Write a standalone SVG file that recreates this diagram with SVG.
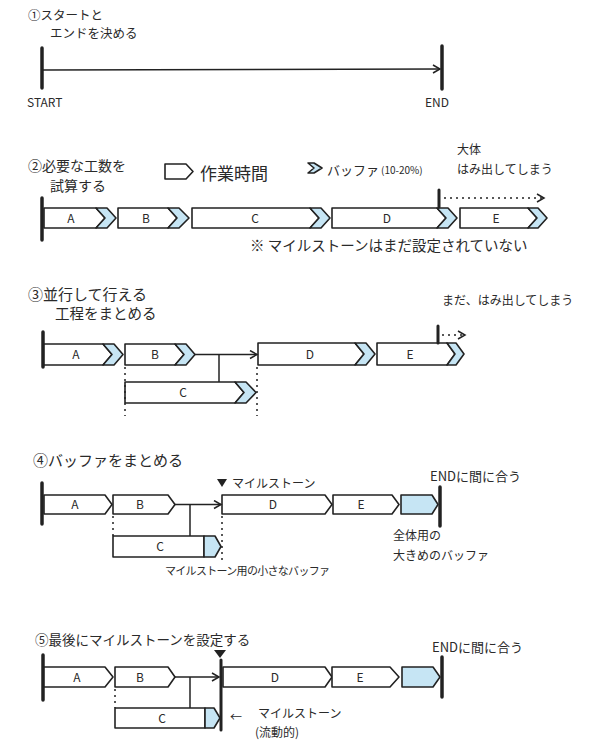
<svg xmlns="http://www.w3.org/2000/svg" width="590" height="751" viewBox="0 0 590 751">
<defs>
<style>
text{font-family:"Noto Sans CJK JP","Noto Sans",sans-serif;fill:#2a2a2a}
.t{font-size:13px}
.s{font-size:12px}
.lbl{font-size:12px;text-anchor:middle}
.box{fill:#fff;stroke:#222;stroke-width:1.6;stroke-linejoin:round}
.buf{fill:#c6e5f4;stroke:#222;stroke-width:1.6;stroke-linejoin:round}
.bar{stroke:#222;stroke-width:3.5;stroke-linecap:round}
.ln{fill:none;stroke:#222;stroke-width:1.5}
.dot{fill:none;stroke:#222;stroke-width:1.5;stroke-dasharray:2 4}
</style>
<marker id="ah" markerWidth="10" markerHeight="10" refX="8" refY="5" orient="auto" markerUnits="userSpaceOnUse">
<polyline points="1,1 8,5 1,9" fill="none" stroke="#222" stroke-width="1.5"/>
</marker>
</defs>
<rect width="590" height="751" fill="#fff"/>

<!-- Section 1 -->
<g id="s1-title">
<text x="28" y="20" style="font-size:12.5px">①スタートと</text>
<text x="50" y="38" style="font-size:12.5px">エンドを決める</text>
</g>
<g id="s1-start"><line class="bar" x1="42" y1="48" x2="42" y2="88"/><text class="s" x="27" y="107">START</text></g>
<g id="s1-end"><line class="bar" x1="442" y1="46" x2="442" y2="89"/><text class="s" x="425" y="107">END</text></g>

<!-- Section 2 -->
<g id="s2-title">
<text x="28" y="171" style="font-size:14px">②必要な工数を</text>
<text x="50" y="191" style="font-size:14px">試算する</text>
</g>
<g id="s2-legend">
<polygon class="box" points="165,164 186,164 193,171.5 186,179 165,179"/>
<text x="200" y="180" style="font-size:17px">作業時間</text>
<polygon class="buf" points="308,163 314,163 322,168 314,173 308,173 314,168"/>
<text x="327" y="175" style="font-size:13px">バッファ</text>
<text x="381" y="174" style="font-size:10px">(10-20%)</text>
<text class="s" x="457" y="154">大体</text>
<text class="s" x="457" y="174">はみ出してしまう</text>
</g>
<g id="s2-start"><line class="bar" x1="42" y1="198" x2="42" y2="240"/></g>
<g id="s2-A"><polygon class="box" points="44,208 96,208 105,218 96,228 44,228"/><polygon class="buf" points="96,208 107,208 116,218 107,228 96,228 105,218"/><text class="lbl" x="71" y="223">A</text></g>
<g id="s2-B"><polygon class="box" points="118,208 168,208 177,218 168,228 118,228"/><polygon class="buf" points="168,208 179,208 189,218 179,228 168,228 177,218"/><text class="lbl" x="146" y="223">B</text></g>
<g id="s2-C"><polygon class="box" points="192,208 310,208 319,218 310,228 192,228"/><polygon class="buf" points="310,208 321,208 330,218 321,228 310,228 319,218"/><text class="lbl" x="255" y="223">C</text></g>
<g id="s2-D"><polygon class="box" points="332,208 437,208 446,218 437,228 332,228"/><polygon class="buf" points="437,208 448,208 457,218 448,228 437,228 446,218"/><text class="lbl" x="387" y="223">D</text></g>
<g id="s2-E"><polygon class="box" points="460,208 528,208 537,218 528,228 460,228"/><polygon class="buf" points="528,208 538,208 547,218 538,228 528,228 537,218"/><text class="lbl" x="496" y="223">E</text></g>
<g id="s2-tick"><line class="bar" x1="439" y1="190" x2="439" y2="207" style="stroke-width:3"/></g>
<g id="s2-note"><text x="250" y="251" style="font-size:14.5px">※ マイルストーンはまだ設定されていない</text></g>

<!-- Section 3 -->
<g id="s3-title">
<text x="28" y="300" style="font-size:15px">③並行して行える</text>
<text x="55" y="319" style="font-size:14.5px">工程をまとめる</text>
</g>
<g id="s3-start"><line class="bar" x1="43" y1="332" x2="43" y2="367"/></g>
<g id="s3-A"><polygon class="box" points="44,344 103,344 112,354.5 103,365 44,365"/><polygon class="buf" points="103,344 114,344 123,354.5 114,365 103,365 112,354.5"/><text class="lbl" x="76" y="359">A</text></g>
<g id="s3-B"><polygon class="box" points="125,344 175,344 184,354.5 175,365 125,365"/><polygon class="buf" points="175,344 186,344 195,354.5 186,365 175,365 184,354.5"/><text class="lbl" x="155" y="359">B</text></g>
<g id="s3-C"><polygon class="box" points="125,382 235,382 244,392.5 235,403 125,403"/><polygon class="buf" points="235,382 246,382 256,392.5 246,403 235,403 244,392.5"/><text class="lbl" x="183" y="397">C</text></g>
<g id="s3-D"><polygon class="box" points="258,343 355,343 364,354 355,365 258,365"/><polygon class="buf" points="355,343 366,343 375,354 366,365 355,365 364,354"/><text class="lbl" x="310" y="359">D</text></g>
<g id="s3-E"><polygon class="box" points="377,343 447,343 455,354 447,365 377,365"/><polygon class="buf" points="447,343 456,343 464,354 456,365 447,365 455,354"/><text class="lbl" x="410" y="359">E</text></g>
<g id="s3-tick"><line class="bar" x1="438" y1="326" x2="438" y2="343" style="stroke-width:3"/></g>
<g id="s3-note"><text class="s" x="442" y="305">まだ、はみ出してしまう</text></g>

<!-- Section 4 -->
<g id="s4-title"><text x="33" y="466" style="font-size:15px">④バッファをまとめる</text></g>
<g id="s4-start"><line class="bar" x1="42" y1="483" x2="42" y2="524"/></g>
<g id="s4-A"><polygon class="box" points="44,495 105,495 112,504.5 105,514 44,514"/><text class="lbl" x="75" y="509">A</text></g>
<g id="s4-B"><polygon class="box" points="113,495 168,495 175,504.5 168,514 113,514"/><text class="lbl" x="140" y="509">B</text></g>
<g id="s4-C"><rect class="box" x="113" y="536" width="91" height="21"/><polygon class="buf" points="204,536 215,536 221,546.5 215,557 204,557"/><text class="lbl" x="160" y="551">C</text></g>
<g id="s4-ms"><polygon points="217,479 227,479 222,487" fill="#222"/><text class="s" x="232" y="488">マイルストーン</text></g>
<g id="s4-D"><polygon class="box" points="222,495 325,495 332,504.5 325,514 222,514"/><text class="lbl" x="273" y="509">D</text></g>
<g id="s4-E"><polygon class="box" points="333,495 392,495 399,504.5 392,514 333,514"/><text class="lbl" x="361" y="509">E</text></g>
<g id="s4-buf"><polygon class="buf" points="401,495 432,495 438,504.5 432,514 401,514"/></g>
<g id="s4-end"><line class="bar" x1="440" y1="487" x2="440" y2="526"/><text class="t" x="430" y="481">ENDに間に合う</text></g>
<g id="s4-notes">
<text class="s" x="393" y="540">全体用の</text>
<text class="s" x="393" y="560">大きめのバッファ</text>
<text x="165" y="575" style="font-size:11px" textLength="165">マイルストーン用の小さなバッファ</text>
</g>

<!-- Section 5 -->
<g id="s5-title"><text x="35" y="645" style="font-size:13.5px">⑤最後にマイルストーンを設定する</text></g>
<g id="s5-start"><line class="bar" x1="43" y1="655" x2="43" y2="700"/></g>
<g id="s5-A"><polygon class="box" points="44,667 105,667 113,677 105,687 44,687"/><text class="lbl" x="77" y="682">A</text></g>
<g id="s5-B"><polygon class="box" points="115,667 168,667 175,677 168,687 115,687"/><text class="lbl" x="140" y="682">B</text></g>
<g id="s5-C"><rect class="box" x="115" y="708" width="90" height="20"/><polygon class="buf" points="205,708 214,708 220,718 214,728 205,728"/><text class="lbl" x="162" y="723">C</text></g>
<g id="s5-ms"><polygon points="214,650 226,650 220,658" fill="#222"/><line class="bar" x1="221" y1="660" x2="221" y2="730" style="stroke-width:3"/></g>
<g id="s5-D"><polygon class="box" points="223,667 325,667 332,677 325,687 223,687"/><text class="lbl" x="275" y="682">D</text></g>
<g id="s5-E"><polygon class="box" points="332,667 390,667 399,677 390,687 332,687"/><text class="lbl" x="360" y="682">E</text></g>
<g id="s5-buf"><polygon class="buf" points="402,667 433,667 440,677 433,687 402,687"/></g>
<g id="s5-end"><line class="bar" x1="442" y1="657" x2="442" y2="697"/><text class="t" x="432" y="652">ENDに間に合う</text></g>
<g id="s5-note">
<text class="s" x="230" y="722">←</text>
<text class="s" x="258" y="718">マイルストーン</text>
<text class="s" x="255" y="737">(流動的)</text>
</g>

<!-- connectors -->
<g id="connectors">
<line class="ln" x1="42" y1="70" x2="440" y2="69" marker-end="url(#ah)"/>
<line class="dot" x1="444" y1="198" x2="544" y2="198" marker-end="url(#ah)"/>
<line class="ln" x1="195" y1="354.5" x2="257" y2="354.5" marker-end="url(#ah)"/>
<line class="ln" x1="219" y1="354.5" x2="219" y2="382"/>
<line class="dot" x1="125" y1="367" x2="125" y2="416"/>
<line class="dot" x1="257" y1="367" x2="257" y2="416"/>
<line class="dot" x1="442" y1="335" x2="465" y2="335" marker-end="url(#ah)"/>
<line class="ln" x1="175" y1="504.5" x2="221" y2="504.5" marker-end="url(#ah)"/>
<line class="ln" x1="190" y1="504.5" x2="190" y2="536"/>
<line class="dot" x1="113" y1="516" x2="113" y2="536"/>
<line class="dot" x1="222" y1="516" x2="222" y2="560"/>
<line class="ln" x1="175" y1="677" x2="219" y2="677" marker-end="url(#ah)"/>
<line class="ln" x1="190" y1="677" x2="190" y2="708"/>
<line class="dot" x1="115" y1="689" x2="115" y2="708"/>
</g>
</svg>
